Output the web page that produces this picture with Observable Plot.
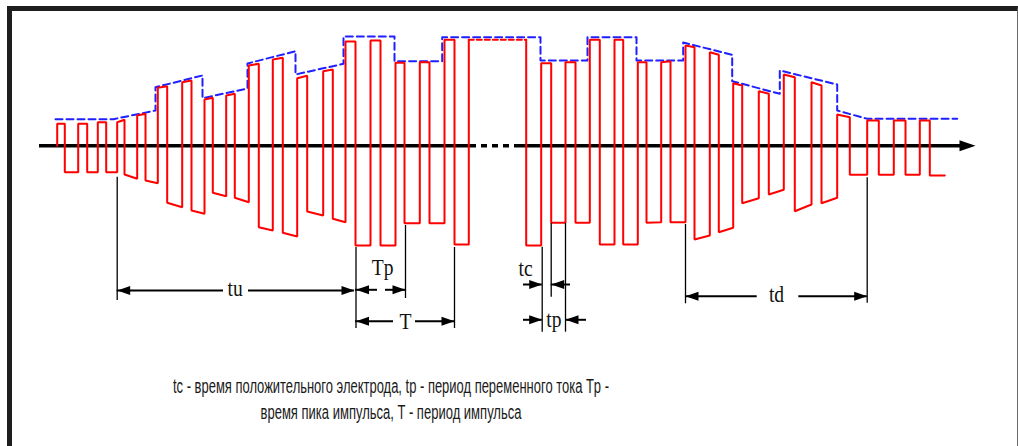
<!DOCTYPE html>
<html><head><meta charset="utf-8">
<script src="https://cdn.jsdelivr.net/npm/d3@7"></script>
<script src="https://cdn.jsdelivr.net/npm/@observablehq/plot@0.6"></script>
<style>
body{margin:0;background:#fff;}
#wrap{position:relative;width:1018px;height:446px;overflow:hidden;background:#fff;}
#frame{position:absolute;left:7px;top:6px;width:1005px;height:460px;border-left:5px solid #1e1e1e;border-top:5px solid #1e1e1e;border-right:1px solid #6a6a6a;pointer-events:none;}
</style></head><body>
<div id="wrap"><div id="chart"></div><div id="frame"></div></div>
<script>
// ---------- DATA (time in arbitrary units, amplitude relative to the zero axis) ----------
// Left half: edges of the pulse train and the level at the start / end of each interval
const leftEdges = [56.7,64.3,77.7,86.7,97.3,105.7,116.7,124,136.7,145,157.3,166.7,181.7,191,204,212.3,225.7,234.3,248.3,258.3,272.3,282.3,296.7,306.7,322.7,332.3,345,355,370,380,395,404,419.3,429,444,454,468.3];
const leftStart = [22,-26.4,22,-26.4,23.6,-26.4,23.6,-28.7,30.3,-34.7,58,-57,63.6,-64.7,46.3,-47,50.3,-52,80.3,-81.4,86.3,-87,67.6,-65.7,74.6,-73,104.3,-99.7,105.3,-99.7,83,-77.4,83.6,-77.4,106,-98.7];
const leftEnd   = [22,-26.4,22,-26.4,23.6,-26.4,26,-33,32,-37.4,59.6,-61.4,65.3,-68,48,-50.4,52,-56.4,82,-84.7,88,-90.7,70,-69.7,76.3,-76.4,104.3,-99.7,105.3,-99.7,83,-77.4,83.6,-77.4,106,-98.7];
// Flat peak (dashed)
const peakX = [468.3, 525.7];
const peakLevel = 106;
// Right half
const rightEdges = [525.7,540.7,550.7,565,575,589.3,599.3,614,622.7,637.3,646,660.7,670,685,694,709.3,718.3,732.7,741.7,758.3,768.3,783.3,794.3,811,821,836.7,849.3,866.7,878.3,893.3,905,919.3,929.3,944.3];
const rightStart = [-99.7,82.6,-77,83.6,-77,106,-98.7,106,-98.7,83.6,-77,83.6,-76.4,100.3,-93.7,93.6,-86.4,62.6,-57.4,54.6,-48.7,71.3,-65.4,63.6,-57.4,31.3,-29,25.3,-29,25.3,-29,25.3,-29.7];
const rightEnd   = [-99.7,82.6,-77,83.6,-77,106,-98.7,106,-98.7,83.6,-76.4,84.6,-76.4,98.6,-89.7,91,-82,60.3,-52.4,52,-44,68.6,-58.7,60.3,-52,28.6,-29,25.3,-29,25.3,-29,25.3,-29.7];
// Envelope (blue dashed)
const envX = [55,113,155,155,202,202,247,247,295,295,343,343,394,394,441.7,441.7,540,540,587,587,636,636,682.7,682.7,731.7,731.7,779.3,779.3,836.7,836.7,866.7,956.7];
const envY = [26.6,26.6,35.3,58.6,70.3,47.6,57.3,82.3,94.6,71.3,82,109.3,109.3,84.6,84.6,108.6,108.6,85.3,85.3,108.6,108.6,85.3,85.3,103.3,91,64.6,52,75.3,61.3,35.3,27,27];
// Time axis
const axisSolidX1 = [39, 517];
const axisSolidX2 = [470, 962];
const axisDashX = [470, 517];
const axisTip = 975;
// Dimension annotations
const extX  = [116.7,355.5,405,454,541.7,550.7,565,685,866.7];
const extY1 = [-31.4,-101.7,-79.7,-101.7,-101.4,-77.7,-77.7,-78.7,-32];
const extY2 = [-154.7,-182.7,-152.7,-182.7,-186.4,-151.4,-186.4,-158,-157.4];
const dimX1 = [116.7,248,355,385,355,415,523,550.7,523,565,685,798.3];
const dimX2 = [223,354,377,405,393,454,541.7,570,541.7,586,756.7,866.7];
const dimY  = [-144.7,-144.7,-144,-144,-175.4,-175.4,-138.7,-138.7,-174,-174,-150.4,-150.4];
const headX = [116.7,354,355.5,405,355.5,454,541.7,550.7,541.7,565,685,866.7];
const headY = [-144.7,-144.7,-144,-144,-175.4,-175.4,-138.7,-138.7,-174,-174,-150.4,-150.4];
const headDir = [-90,90,-90,90,-90,90,90,-90,90,-90,-90,90];
const labelText = ["tu","Tp","T","tc","tp","td"];
const labelX = [234.7,382.2,405,525,553.3,776];
const labelY = [-149.7,-128.7,-183,-129.7,-180.7,-156.4];
// Caption
const captionText = ["tc - время положительного электрода, tp - период переменного тока Tp -","время пика импульса, T - период импульса"];
const captionX = [390.5, 390.5];
const captionY = [-247.2, -272.7];
const captionW = [436, 261];

// ---------- build tables ----------
function train(edges, s, e, startLevel) {
  const pts = [{x: edges[0], y: startLevel}];
  for (let i = 0; i < s.length; i++) {
    pts.push({x: edges[i], y: s[i]});
    pts.push({x: edges[i + 1], y: e[i]});
  }
  return pts;
}
const leftPts = train(leftEdges, leftStart, leftEnd, 0);
leftPts.push({x: peakX[0], y: peakLevel});
const rightPts = train(rightEdges, rightStart, rightEnd, peakLevel);
const peakPts = peakX.map(x => ({x, y: peakLevel}));
const env = envX.map((x, i) => ({x, y: envY[i]}));
const axisSolid = axisSolidX1.map((x1, i) => ({x1, x2: axisSolidX2[i]}));
const ext = extX.map((x, i) => ({x, y1: extY1[i], y2: extY2[i]}));
const dims = dimX1.map((x1, i) => ({x1, x2: dimX2[i], y: dimY[i]}));
const heads = headX.map((x, i) => ({x, y: headY[i], r: headDir[i]}));
const labels = labelText.map((t, i) => ({t, x: labelX[i], y: labelY[i]}));
const caption = captionText.map((t, i) => ({t, x: captionX[i], y: captionY[i], w: captionW[i]}));

const headShape = {draw(ctx, l, r) { ctx.moveTo(0, -l); ctx.lineTo(r, 0); ctx.lineTo(-r, 0); ctx.closePath(); }};

const chart = Plot.plot({
  width: 1018, height: 446, margin: 0,
  x: {domain: [0, 1018], range: [0, 1018], axis: null},
  y: {domain: [-300.7, 145.3], range: [446, 0], axis: null},
  marks: [
    // time axis
    Plot.ruleY(axisSolid, {x1: "x1", x2: "x2", y: 0, stroke: "#000", strokeWidth: 3.5}),
    Plot.ruleY([axisDashX], {x1: d => d[0], x2: d => d[1], y: 0, stroke: "#000", strokeWidth: 3.5, strokeDasharray: "6,5"}),
    Plot.vector([axisTip], {x: d => d, y: 0, rotate: 90, length: 16, r: 5.5, anchor: "end", shape: headShape, fill: "#000", stroke: "none"}),
    // envelope
    Plot.line(env, {x: "x", y: "y", stroke: "#1f1fff", strokeWidth: 2, strokeDasharray: "7,4", curve: "linear"}),
    // waveform
    Plot.line(leftPts, {x: "x", y: "y", stroke: "#ff0000", strokeWidth: 2, strokeLinejoin: "miter"}),
    Plot.line(peakPts, {x: "x", y: "y", stroke: "#ff0000", strokeWidth: 2, strokeDasharray: "5,3"}),
    Plot.line(rightPts, {x: "x", y: "y", stroke: "#ff0000", strokeWidth: 2, strokeLinejoin: "miter"}),
    // dimension lines
    Plot.ruleX(ext, {x: "x", y1: "y1", y2: "y2", stroke: "#000", strokeWidth: 1.3}),
    Plot.ruleY(dims, {x1: "x1", x2: "x2", y: "y", stroke: "#000", strokeWidth: 2}),
    Plot.vector(heads, {x: "x", y: "y", rotate: "r", length: 13, r: 4.5, anchor: "end", shape: headShape, fill: "#000", stroke: "none"}),
    Plot.text(labels, {x: "x", y: "y", text: "t", lineAnchor: "bottom", fontFamily: "Liberation Serif, serif", fontSize: 23, fill: "#111"}),
    Plot.text(caption, {x: "x", y: "y", text: "t", lineAnchor: "bottom", fontFamily: "Liberation Sans, Arial, sans-serif", fontSize: 20, fill: "#1a1a1a"})
  ]
});
document.getElementById("chart").appendChild(chart);

// horizontal compression of the type, as in the source picture
chart.querySelectorAll("text").forEach(el => {
  const s = el.textContent;
  const ci = captionText.indexOf(s);
  if (ci >= 0) {
    el.setAttribute("textLength", captionW[ci]);
    el.setAttribute("lengthAdjust", "spacingAndGlyphs");
  } else if (labelText.indexOf(s) >= 0) {
    const w = el.getComputedTextLength();
    el.setAttribute("textLength", (w * 0.85).toFixed(1));
    el.setAttribute("lengthAdjust", "spacingAndGlyphs");
  }
});
</script>
</body></html>
